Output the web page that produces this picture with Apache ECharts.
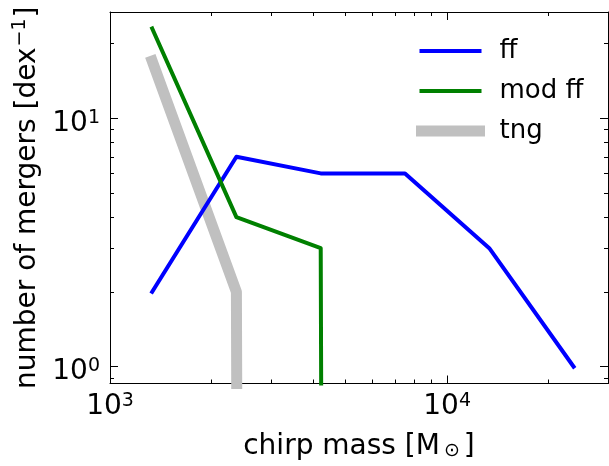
<!DOCTYPE html>
<html>
<head>
<meta charset="utf-8">
<script src="https://cdn.jsdelivr.net/npm/echarts@6/dist/echarts.min.js"></script>
<style>
  html, body { margin: 0; padding: 0; background: #fff; }
  #chart { width: 609px; height: 466px; }
</style>
</head>
<body>
<div id="chart"></div>
<script>
// bin centres in chirp mass (0.25 dex bins from 10^3)
const chirpMass = [1334, 2371, 4217, 7499, 13335, 23714]
const ffCounts = [2, 7, 6, 6, 3, 1]
const modFfCounts = [23, 4, 3, 0, 0, 0]
const tngCounts = [17, 2, 0, 0, 0, 0]

const xMajorTicks = [1e3, 1e4]
const xMinorTicks = [2e3, 3e3, 4e3, 5e3, 6e3, 7e3, 8e3, 9e3, 2e4, 3e4]
const yMajorTicks = [1, 10]
const yMinorTicks = [0.9, 2, 3, 4, 5, 6, 7, 8, 9, 20]

const xRange = [1000, 30000]
const yRange = [0.855, 26.8]

const FONT = 'DejaVu Sans'

// log axis can't show 0, push it far below the visible range (like matplotlib's clip)
function toPoints(counts) {
  return chirpMass.map((m, i) => [m, counts[i] > 0 ? counts[i] : 1e-100])
}

function powLabel(v) {
  return '{b|10}{s|' + Math.round(Math.log10(v)) + '}'
}

const labelRich = {
  b: { fontSize: 28, fontFamily: FONT, color: '#000', lineHeight: 30 },
  s: { fontSize: 19, fontFamily: FONT, color: '#000', lineHeight: 20, verticalAlign: 'top' },
}

function tickAxis(range, position, ticks, len, showLine, labels) {
  return {
    type: 'log',
    min: range[0],
    max: range[1],
    position: position,
    splitLine: { show: false },
    minorTick: { show: false },
    axisLine: { show: showLine, lineStyle: { color: '#000', width: 1 } },
    axisTick: {
      show: true,
      inside: true,
      length: len,
      customValues: ticks,
      lineStyle: { color: '#000', width: 1 },
    },
    axisLabel: labels
      ? { show: true, customValues: ticks, formatter: powLabel, rich: labelRich, margin: 8 }
      : { show: false },
  }
}

const xMain = tickAxis(xRange, 'bottom', xMajorTicks, 8, true, true)
xMain.name = '{t|chirp mass [M}{sub|⊙}{t|]}'
xMain.nameLocation = 'middle'
xMain.nameGap = 46
xMain.nameTextStyle = {
  rich: {
    t: { fontSize: 28, fontFamily: FONT, color: '#000', lineHeight: 34 },
    sub: { fontSize: 19, fontFamily: FONT, color: '#000', lineHeight: 34, padding: [10, 4, 0, 4] },
  },
}

const yMain = tickAxis(yRange, 'left', yMajorTicks, 8, true, true)
yMain.axisLabel.margin = 10
yMain.axisLabel.padding = [10, 0, 0, 0]
yMain.name = '{t|number of mergers [dex}{sup|−1}{t|]}'
yMain.nameLocation = 'middle'
yMain.nameRotate = 90
yMain.nameGap = 62
yMain.nameTextStyle = {
  rich: {
    t: { fontSize: 28, fontFamily: FONT, color: '#000', lineHeight: 34 },
    sup: { fontSize: 19, fontFamily: FONT, color: '#000', lineHeight: 20, verticalAlign: 'top', padding: [0, 1, 0, 1] },
  },
}

const option = {
  animation: false,
  backgroundColor: '#fff',
  grid: { left: 110, right: 1, top: 12, bottom: 78, containLabel: false },
  legend: {
    data: [
      { name: 'ff', lineStyle: { width: 4, color: '#0000ff' } },
      { name: 'mod ff', lineStyle: { width: 4, color: '#008000' } },
      { name: 'tng', lineStyle: { width: 11, color: '#c0c0c0' } },
    ],
    orient: 'vertical',
    left: 411,
    top: 32,
    itemWidth: 58,
    itemHeight: 14,
    itemGap: 12,
    itemStyle: { opacity: 0 },
    textStyle: { fontSize: 26, fontFamily: FONT, color: '#000', lineHeight: 28, padding: [0, 0, 0, 15] },
  },
  xAxis: [
    xMain,
    tickAxis(xRange, 'bottom', xMinorTicks, 4, false, false),
    tickAxis(xRange, 'top', xMajorTicks, 8, true, false),
    tickAxis(xRange, 'top', xMinorTicks, 4, false, false),
  ],
  yAxis: [
    yMain,
    tickAxis(yRange, 'left', yMinorTicks, 4, false, false),
    tickAxis(yRange, 'right', yMajorTicks, 8, true, false),
    tickAxis(yRange, 'right', yMinorTicks, 4, false, false),
  ],
  series: [
    {
      name: 'tng',
      type: 'line',
      z: 2,
      symbol: 'none',
      clip: true,
      color: '#c0c0c0',
      lineStyle: { color: '#c0c0c0', width: 11, cap: 'square', join: 'round' },
      data: toPoints(tngCounts),
    },
    {
      name: 'ff',
      type: 'line',
      z: 3,
      symbol: 'none',
      clip: true,
      color: '#0000ff',
      lineStyle: { color: '#0000ff', width: 4, cap: 'square', join: 'round' },
      data: toPoints(ffCounts),
    },
    {
      name: 'mod ff',
      type: 'line',
      z: 4,
      symbol: 'none',
      clip: true,
      color: '#008000',
      lineStyle: { color: '#008000', width: 4, cap: 'square', join: 'round' },
      data: toPoints(modFfCounts),
    },
  ],
}

const myChart = echarts.init(document.getElementById('chart'))
myChart.setOption(option)
</script>
</body>
</html>
